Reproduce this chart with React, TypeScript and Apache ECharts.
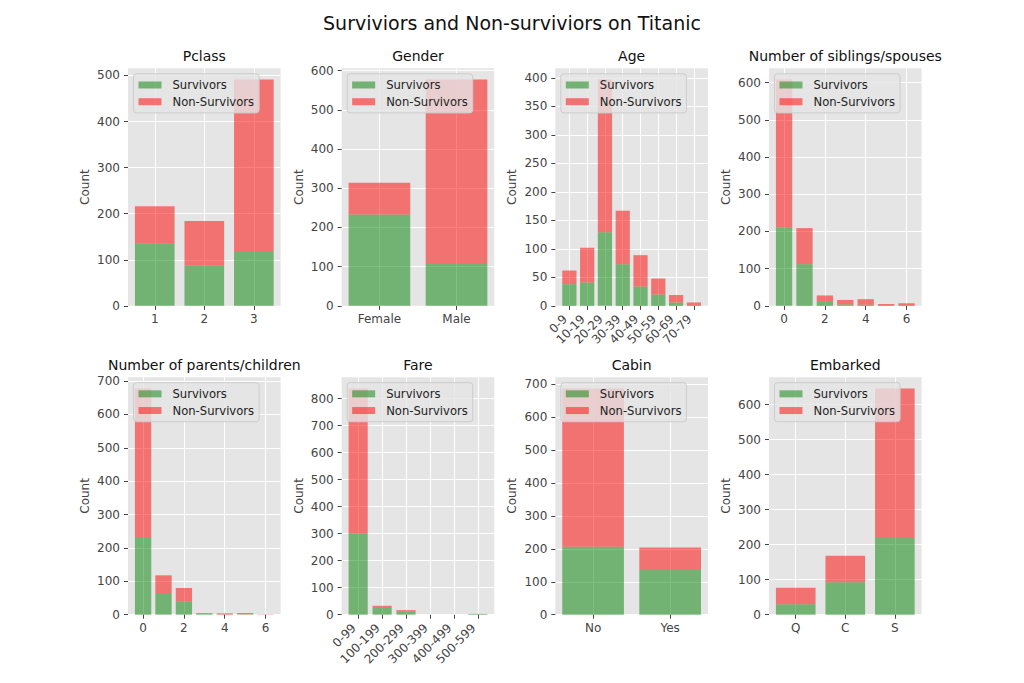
import React, { useEffect, useRef } from 'react';
import * as echarts from 'echarts';

// ---------------- data ----------------
const suptitle = 'Surviviors and Non-surviviors on Titanic';
const seriesNames = ['Survivors', 'Non-Survivors'];

const pclassPositions = [1, 2, 3];
const pclassTickValues = [1, 2, 3];
const pclassSurvivors = [136, 87, 119];
const pclassNonSurvivors = [80, 97, 372];
const pclassYTicks = [0, 100, 200, 300, 400, 500];

const genderLabels = ['Female', 'Male'];
const genderSurvivors = [233, 109];
const genderNonSurvivors = [81, 468];
const genderYTicks = [0, 100, 200, 300, 400, 500, 600];

const ageLabels = ['0-9', '10-19', '20-29', '30-39', '40-49', '50-59', '60-69', '70-79'];
const ageSurvivors = [38, 41, 129, 73, 34, 20, 6, 0];
const ageNonSurvivors = [24, 61, 268, 94, 55, 28, 13, 6];
const ageYTicks = [0, 50, 100, 150, 200, 250, 300, 350, 400];

const sibspPositions = [0, 1, 2, 3, 4, 5, 6];
const sibspTickValues = [0, 2, 4, 6];
const sibspSurvivors = [210, 112, 13, 4, 3, 0, 0];
const sibspNonSurvivors = [398, 97, 15, 12, 15, 5, 7];
const sibspYTicks = [0, 100, 200, 300, 400, 500, 600];

const parchPositions = [0, 1, 2, 3, 4, 5, 6];
const parchTickValues = [0, 2, 4, 6];
const parchSurvivors = [233, 65, 40, 3, 0, 1, 0];
const parchNonSurvivors = [445, 53, 40, 2, 4, 4, 1];
const parchYTicks = [0, 100, 200, 300, 400, 500, 600, 700];

const fareLabels = ['0-99', '100-199', '200-299', '300-399', '400-499', '500-599'];
const fareSurvivors = [303, 25, 11, 0, 0, 3];
const fareNonSurvivors = [535, 8, 6, 0, 0, 0];
const fareYTicks = [0, 100, 200, 300, 400, 500, 600, 700, 800];

const cabinLabels = ['No', 'Yes'];
const cabinSurvivors = [206, 136];
const cabinNonSurvivors = [481, 68];
const cabinYTicks = [0, 100, 200, 300, 400, 500, 600, 700];

const embarkedLabels = ['Q', 'C', 'S'];
const embarkedSurvivors = [30, 93, 219];
const embarkedNonSurvivors = [47, 75, 427];
const embarkedYTicks = [0, 100, 200, 300, 400, 500, 600];

// ---------------- panels ----------------
type Panel = {
  title: string;
  positions: number[];
  tickValues: number[];
  labels?: string[];
  surv: number[];
  non: number[];
  yTicks: number[];
  rotate?: number;
};

const idx = (arr: any[]) => arr.map((_, i) => i);

const panels: Panel[] = [
  { title: 'Pclass', positions: pclassPositions, tickValues: pclassTickValues, surv: pclassSurvivors, non: pclassNonSurvivors, yTicks: pclassYTicks },
  { title: 'Gender', positions: idx(genderLabels), tickValues: idx(genderLabels), labels: genderLabels, surv: genderSurvivors, non: genderNonSurvivors, yTicks: genderYTicks },
  { title: 'Age', positions: idx(ageLabels), tickValues: idx(ageLabels), labels: ageLabels, surv: ageSurvivors, non: ageNonSurvivors, yTicks: ageYTicks, rotate: 45 },
  { title: 'Number of siblings/spouses', positions: sibspPositions, tickValues: sibspTickValues, surv: sibspSurvivors, non: sibspNonSurvivors, yTicks: sibspYTicks },
  { title: 'Number of parents/children', positions: parchPositions, tickValues: parchTickValues, surv: parchSurvivors, non: parchNonSurvivors, yTicks: parchYTicks },
  { title: 'Fare', positions: idx(fareLabels), tickValues: idx(fareLabels), labels: fareLabels, surv: fareSurvivors, non: fareNonSurvivors, yTicks: fareYTicks, rotate: 45 },
  { title: 'Cabin', positions: idx(cabinLabels), tickValues: idx(cabinLabels), labels: cabinLabels, surv: cabinSurvivors, non: cabinNonSurvivors, yTicks: cabinYTicks },
  { title: 'Embarked', positions: idx(embarkedLabels), tickValues: idx(embarkedLabels), labels: embarkedLabels, surv: embarkedSurvivors, non: embarkedNonSurvivors, yTicks: embarkedYTicks },
];

// ---------------- layout ----------------
const FIG_W = 1024;
const FIG_H = 683;
const AX_LEFT = 0.125 * FIG_W;
const AX_RIGHT = 0.9 * FIG_W;
const AX_TOP = 0.1 * FIG_H;
const AX_BOTTOM = 0.9 * FIG_H;
const WSPACE = 0.4;
const HSPACE = 0.3;
const GW = (AX_RIGHT - AX_LEFT) / (4 + 3 * WSPACE);
const GH = (AX_BOTTOM - AX_TOP) / (2 + HSPACE);
const BAR_W = 0.8;

const FONT = 'DejaVu Sans';
const TICK_COLOR = '#444444';
const TICK_FONT = 12;
const GREEN = 'rgba(0,128,0,0.5)';
const RED = 'rgba(255,0,0,0.5)';

function barRenderer(color: string) {
  return (params: any, api: any) => {
    const x = api.value(0);
    const bottom = api.value(1);
    const top = api.value(2);
    const p0 = api.coord([x - BAR_W / 2, top]);
    const p1 = api.coord([x + BAR_W / 2, bottom]);
    return {
      type: 'rect',
      shape: { x: p0[0], y: p0[1], width: p1[0] - p0[0], height: p1[1] - p0[1] },
      style: { fill: color },
    };
  };
}

function buildOption() {
  const grid: any[] = [];
  const xAxis: any[] = [];
  const yAxis: any[] = [];
  const series: any[] = [];
  const legend: any[] = [];
  const graphic: any[] = [];

  graphic.push({
    type: 'text',
    x: FIG_W / 2,
    y: 22.5,
    style: {
      text: suptitle,
      fill: '#111',
      fontSize: 19,
      fontFamily: FONT,
      align: 'center',
      verticalAlign: 'middle',
      textAlign: 'center',
      textVerticalAlign: 'middle',
    },
  });

  panels.forEach((p, k) => {
    const col = k % 4;
    const row = Math.floor(k / 4);
    const left = AX_LEFT + col * GW * (1 + WSPACE);
    const top = AX_TOP + row * GH * (1 + HSPACE);

    const first = p.positions[0];
    const last = p.positions[p.positions.length - 1];
    const span = last - first + BAR_W;
    const xmin = first - BAR_W / 2 - 0.05 * span;
    const xmax = last + BAR_W / 2 + 0.05 * span;
    const totals = p.surv.map((s, i) => s + p.non[i]);
    const ymax = Math.max(...totals) * 1.05;

    grid.push({ left, top, width: GW, height: GH, show: true, backgroundColor: '#E5E5E5', borderWidth: 0 });

    const labels = p.labels;
    xAxis.push({
      type: 'value',
      gridIndex: k,
      min: xmin,
      max: xmax,
      axisLine: { show: false, onZero: false },
      axisTick: { show: true, length: 4, lineStyle: { color: TICK_COLOR, width: 1 }, customValues: p.tickValues },
      axisLabel: {
        customValues: p.tickValues,
        color: TICK_COLOR,
        fontSize: TICK_FONT,
        fontFamily: FONT,
        margin: 7,
        rotate: p.rotate || 0,
        formatter: (v: number) => {
          const t = labels ? labels[Math.round(v)] : String(Math.round(v));
          return p.rotate ? '{r|' + t + '}' : t;
        },
        rich: p.rotate ? { r: { padding: [0, 6, 0, 0], fontSize: TICK_FONT, color: TICK_COLOR, fontFamily: FONT } } : undefined,
      },
      splitLine: { show: true, lineStyle: { color: '#ffffff', width: 1 } },
    });

    yAxis.push({
      type: 'value',
      gridIndex: k,
      min: 0,
      max: ymax,
      name: 'Count',
      nameLocation: 'middle',
      nameRotate: 90,
      nameGap: 37,
      nameTextStyle: { color: TICK_COLOR, fontSize: TICK_FONT, fontFamily: FONT },
      axisLine: { show: false, onZero: false },
      axisTick: { show: true, length: 4, lineStyle: { color: TICK_COLOR, width: 1 }, customValues: p.yTicks },
      axisLabel: { customValues: p.yTicks, color: TICK_COLOR, fontSize: TICK_FONT, fontFamily: FONT, margin: 8 },
      splitLine: { show: true, lineStyle: { color: '#ffffff', width: 1 } },
    });

    series.push({
      type: 'custom',
      name: seriesNames[0],
      xAxisIndex: k,
      yAxisIndex: k,
      renderItem: barRenderer(GREEN),
      encode: { x: 0, y: [1, 2] },
      data: p.positions.map((x, i) => [x, 0, p.surv[i]]),
      itemStyle: { color: GREEN },
      emphasis: { disabled: true },
    });
    series.push({
      type: 'custom',
      name: seriesNames[1],
      xAxisIndex: k,
      yAxisIndex: k,
      renderItem: barRenderer(RED),
      encode: { x: 0, y: [1, 2] },
      data: p.positions.map((x, i) => [x, p.surv[i], totals[i]]),
      itemStyle: { color: RED },
      emphasis: { disabled: true },
    });

    legend.push({
      show: true,
      orient: 'vertical',
      left: left + 5.5,
      top: top + 5.5,
      data: seriesNames,
      icon: 'rect',
      itemWidth: 23,
      itemHeight: 7,
      itemGap: 4.7,
      padding: [5.2, 5, 5.2, 5],
      backgroundColor: 'rgba(229,229,229,0.8)',
      borderColor: '#cccccc',
      borderWidth: 1,
      borderRadius: 3,
      selectedMode: false,
      textStyle: { fontSize: 11.6, color: '#222', fontFamily: FONT, padding: [0, 0, 0, 6] },
    });

    graphic.push({
      type: 'text',
      x: left + GW / 2,
      y: top - 12,
      style: {
        text: p.title,
        fill: '#111',
        fontSize: 14,
        fontFamily: FONT,
        align: 'center',
        verticalAlign: 'middle',
        textAlign: 'center',
        textVerticalAlign: 'middle',
      },
    });
  });

  return {
    animation: false,
    backgroundColor: '#ffffff',
    textStyle: { fontFamily: FONT },
    grid,
    xAxis,
    yAxis,
    series,
    legend,
    graphic,
  };
}

export default function App() {
  const ref = useRef<HTMLDivElement>(null);
  useEffect(() => {
    document.body.style.margin = '0';
    const chart = echarts.init(ref.current as HTMLDivElement, null, { renderer: 'svg', width: FIG_W, height: FIG_H });
    chart.setOption(buildOption() as any);
    return () => chart.dispose();
  }, []);
  return (
    <div
      ref={ref}
      style={{ position: 'absolute', left: 0, top: 0, width: FIG_W, height: FIG_H, background: '#fff' }}
    />
  );
}
